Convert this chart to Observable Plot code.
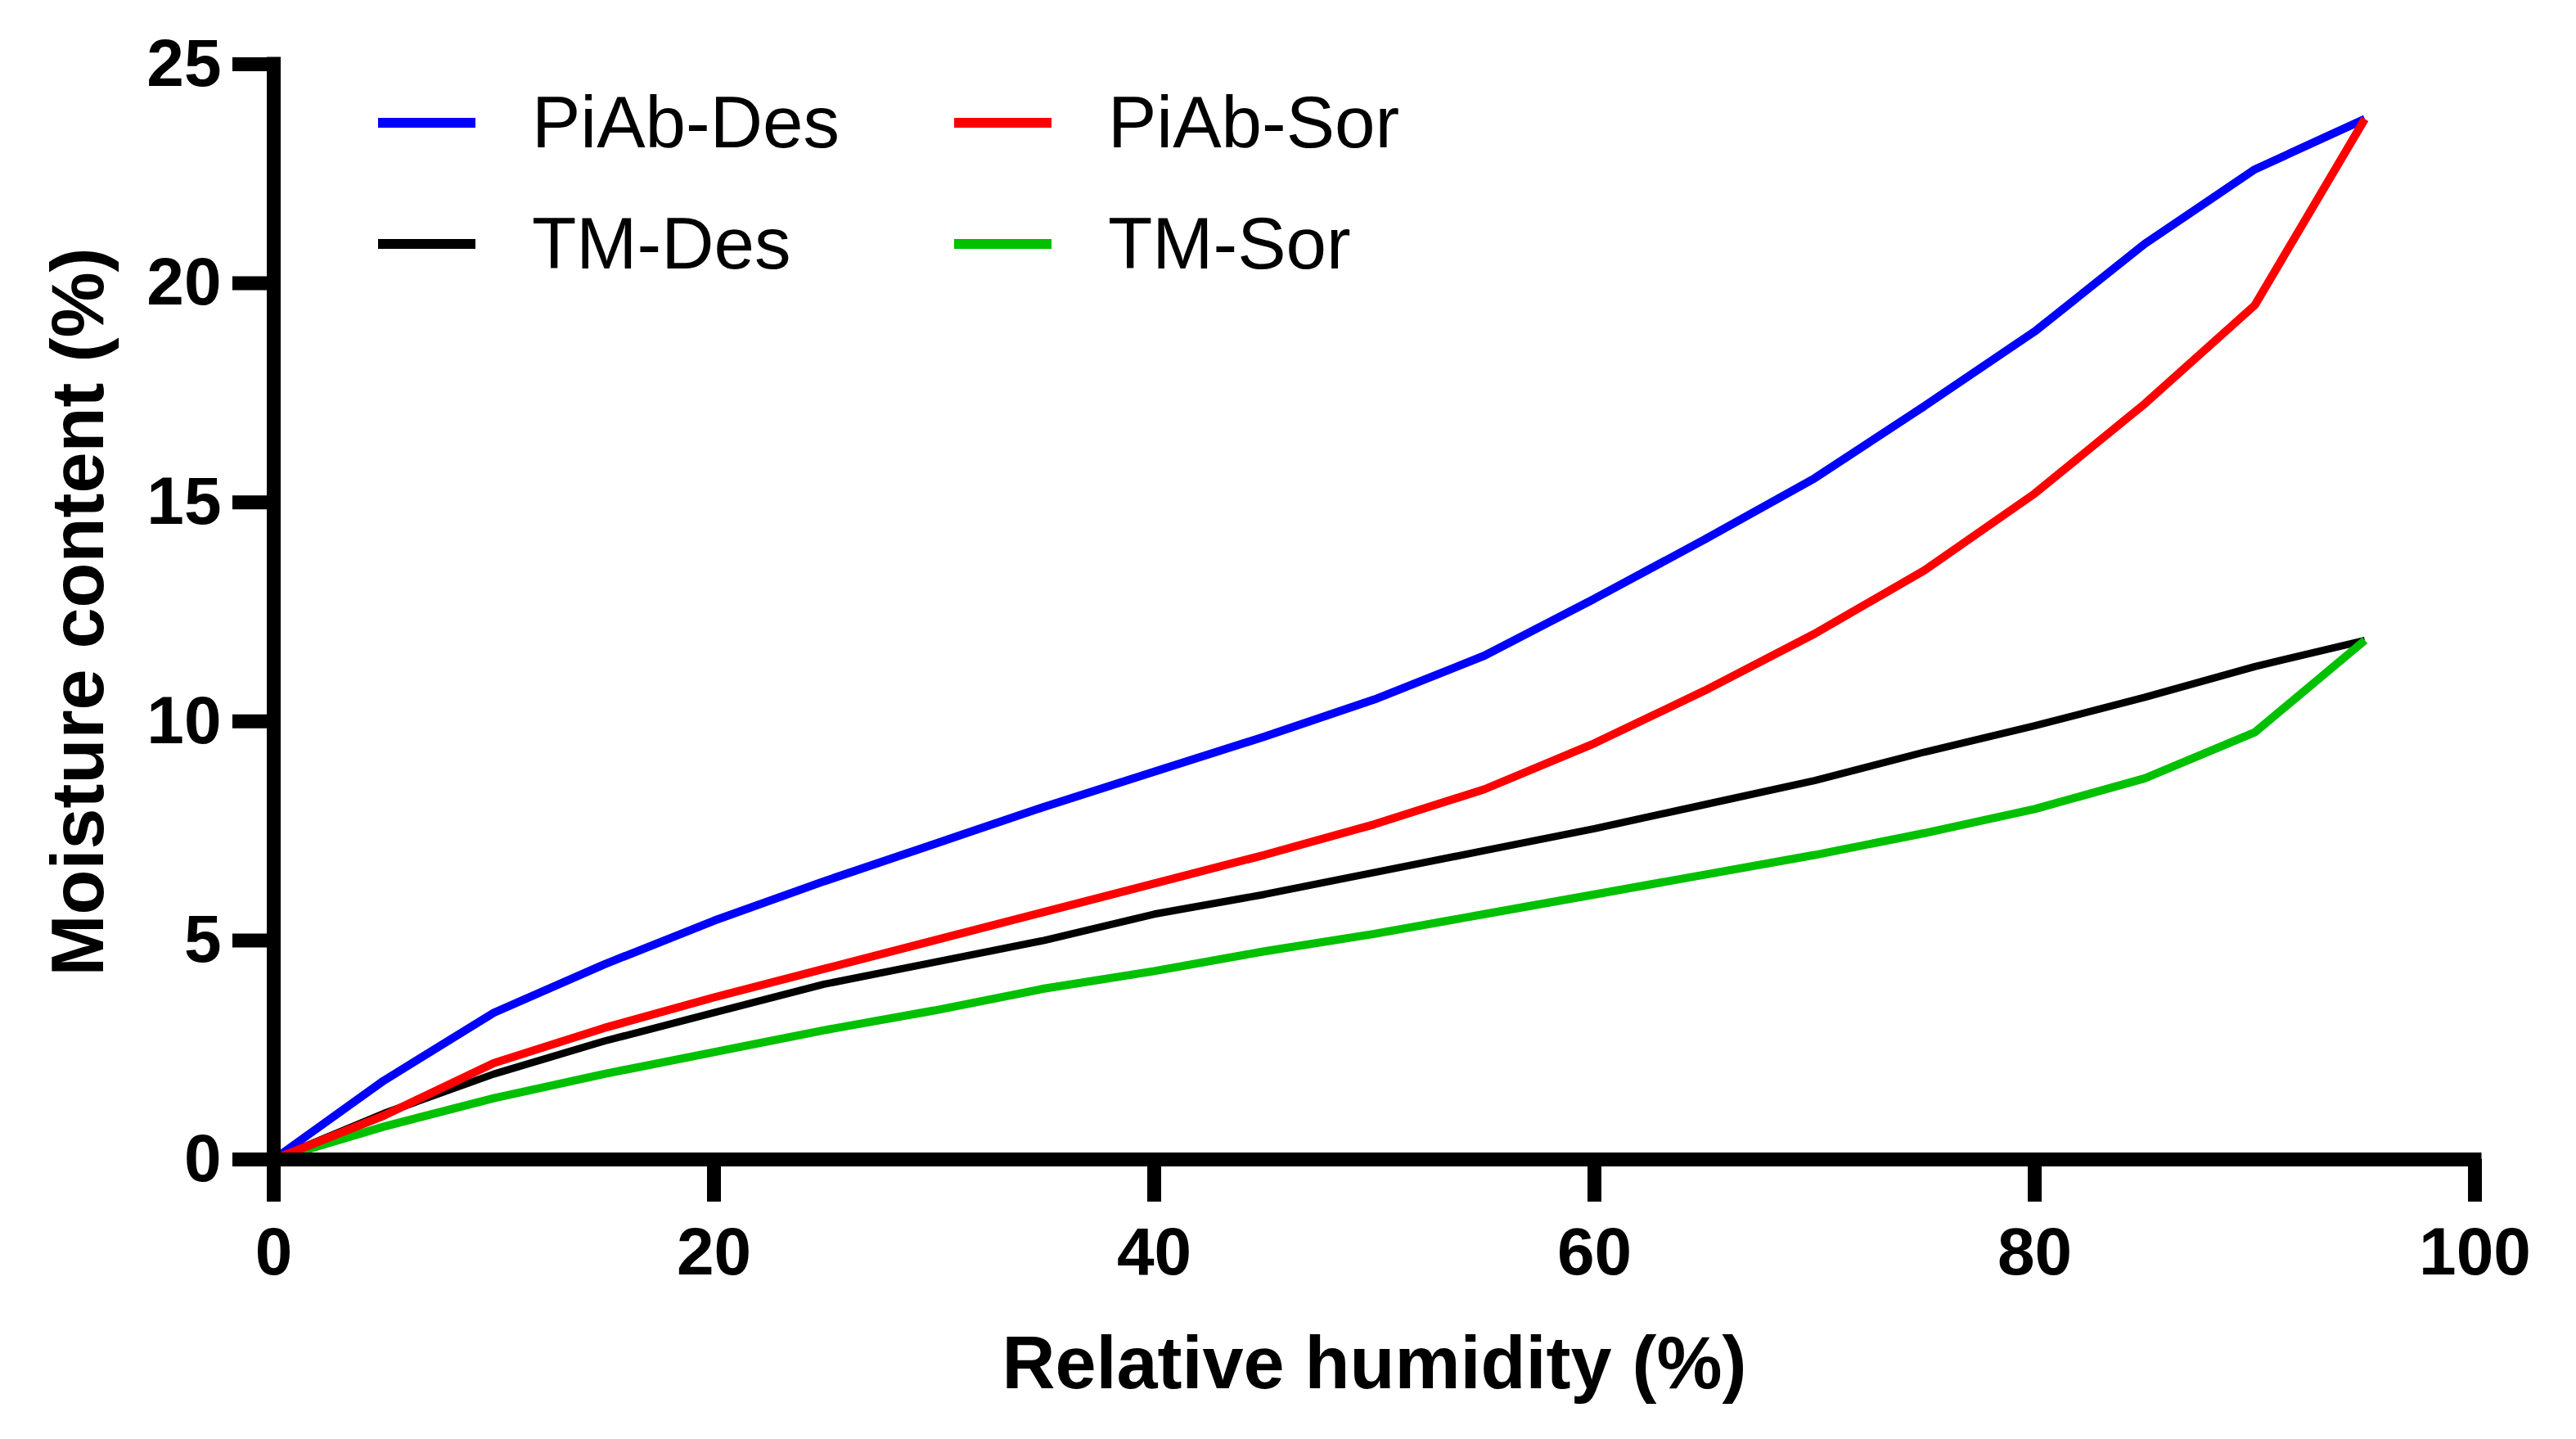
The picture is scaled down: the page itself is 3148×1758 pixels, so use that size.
<!DOCTYPE html>
<html>
<head>
<meta charset="utf-8">
<script src="https://cdn.jsdelivr.net/npm/d3@7"></script>
<script src="https://cdn.jsdelivr.net/npm/@observablehq/plot@0.6"></script>
<style>
  html, body { margin: 0; padding: 0; background: #fff; overflow: hidden; }
  #wrap { position: relative; width: 3148px; height: 1758px; }
  #legend .item { position: absolute; display: flex; align-items: center; font-family: "Liberation Sans", Arial, sans-serif; font-size: 89px; line-height: 1; color: #000; white-space: nowrap; }
  #legend .sw { width: 119px; height: 12px; margin-right: 69px; }
</style>
</head>
<body>
<div id="wrap"><div id="chart"></div><div id="legend"></div></div>
<script>
// ---- data ----
const rh = [0, 5, 10, 15, 20, 25, 30, 35, 40, 45, 50, 55, 60, 65, 70, 75, 80, 85, 90, 95];
const piabDes = [0, 1.8, 3.35, 4.45, 5.45, 6.35, 7.2, 8.05, 8.85, 9.65, 10.5, 11.5, 12.8, 14.15, 15.55, 17.2, 18.9, 20.9, 22.6, 23.75];
const piabSor = [0, 1.0, 2.2, 3.0, 3.7, 4.35, 5.0, 5.65, 6.3, 6.95, 7.65, 8.45, 9.5, 10.7, 12.0, 13.45, 15.2, 17.25, 19.5, 23.75];
const tmDes = [0, 1.05, 1.95, 2.7, 3.35, 4.0, 4.5, 5.0, 5.6, 6.05, 6.55, 7.05, 7.55, 8.1, 8.65, 9.3, 9.9, 10.55, 11.25, 11.85];
const tmSor = [0, 0.75, 1.4, 1.95, 2.45, 2.95, 3.4, 3.9, 4.3, 4.75, 5.15, 5.6, 6.05, 6.5, 6.95, 7.45, 8.0, 8.7, 9.75, 11.85];
const seriesNames = ["PiAb-Des", "PiAb-Sor", "TM-Des", "TM-Sor"];
const seriesColors = ["#0000ff", "#ff0000", "#000000", "#00c000"];
const xTicks = [0, 20, 40, 60, 80, 100];
const yTicks = [0, 5, 10, 15, 20, 25];
const xLabel = "Relative humidity (%)";
const yLabel = "Moisture content (%)";

const seriesValues = {"PiAb-Des": piabDes, "PiAb-Sor": piabSor, "TM-Des": tmDes, "TM-Sor": tmSor};
const rows = s => rh.map((x, i) => ({x, y: seriesValues[s][i], series: s}));
const drawOrder = ["TM-Des", "TM-Sor", "PiAb-Des", "PiAb-Sor"];
const widthOf = {"PiAb-Des": 10, "PiAb-Sor": 10, "TM-Des": 9, "TM-Sor": 10};
const font = "'Liberation Sans', Arial, sans-serif";

const chart = Plot.plot({
  width: 3148,
  height: 1758,
  marginLeft: 334,
  marginRight: 124,
  marginTop: 78,
  marginBottom: 342,
  x: {domain: [0, 100]},
  y: {domain: [0, 25]},
  color: {domain: seriesNames, range: seriesColors},
  style: {fontFamily: font, background: "#fff", color: "#000"},
  marks: [
    Plot.axisX({ticks: xTicks, tickSize: 52, tickPadding: 30, strokeWidth: 17, fontSize: 82, fontWeight: "bold", label: null, tickFormat: d => String(d)}),
    Plot.axisY({ticks: yTicks, tickSize: 50, tickPadding: 14, strokeWidth: 17, fontSize: 82, fontWeight: "bold", label: null, tickFormat: d => String(d)}),
    ...drawOrder.map(s => Plot.line(rows(s), {x: "x", y: "y", stroke: "series", strokeWidth: widthOf[s], strokeLinejoin: "miter", strokeLinecap: "butt"})),
    Plot.ruleY([0], {stroke: "#000", strokeWidth: 17, strokeLinecap: "square"}),
    Plot.ruleX([0], {stroke: "#000", strokeWidth: 17, strokeLinecap: "square"}),
    Plot.text([xLabel], {frameAnchor: "bottom", textAnchor: "middle", dy: 279, fontSize: 90, fontWeight: "bold", fill: "#000"}),
    Plot.text([yLabel], {frameAnchor: "left", textAnchor: "middle", rotate: -90, dx: -237, fontSize: 90, fontWeight: "bold", fill: "#000"})
  ]
});
document.getElementById("chart").appendChild(chart);

// legend overlay (inside plot area, 2 columns)
const legend = document.getElementById("legend");
const colLeft = [462, 1166];
const rowTop = [105, 253];
seriesNames.forEach((name, i) => {
  const item = document.createElement("div");
  item.className = "item";
  item.style.left = colLeft[i % 2] + "px";
  item.style.top = rowTop[Math.floor(i / 2)] + "px";
  const sw = document.createElement("div");
  sw.className = "sw";
  sw.style.background = seriesColors[i];
  const tx = document.createElement("span");
  tx.textContent = name;
  item.appendChild(sw);
  item.appendChild(tx);
  legend.appendChild(item);
});
</script>
</body>
</html>
